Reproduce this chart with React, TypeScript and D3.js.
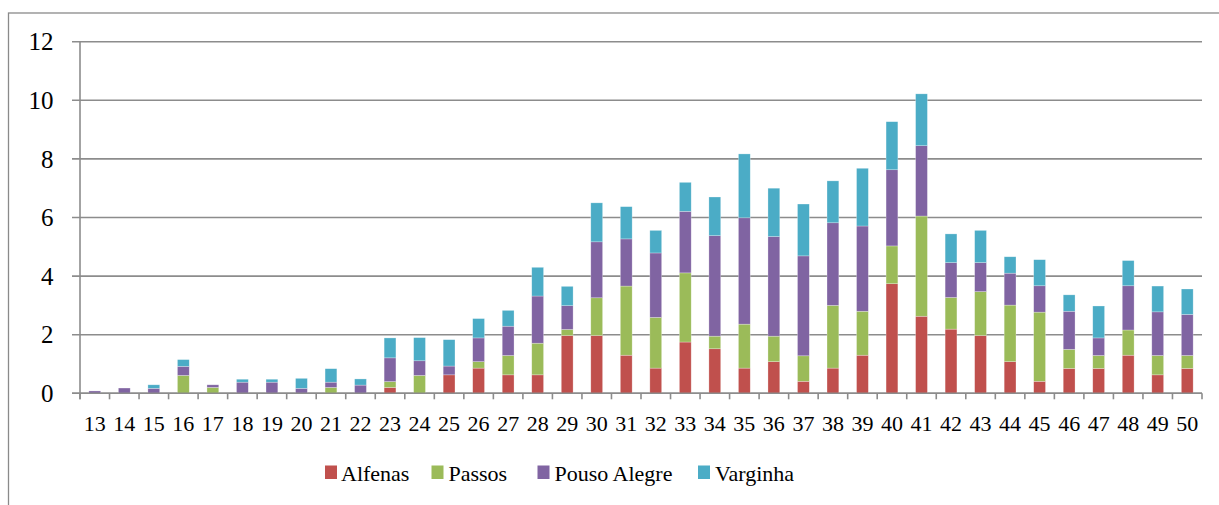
import React from "react";
import * as d3 from "d3";

const weeks = ["13","14","15","16","17","18","19","20","21","22","23","24","25","26","27","28","29","30","31","32","33","34","35","36","37","38","39","40","41","42","43","44","45","46","47","48","49","50"];

const alfenas = [0,0,0,0,0,0,0,0,0,0,0.2,0,0.63,0.86,0.63,0.63,1.97,1.97,1.3,0.86,1.75,1.52,0.86,1.08,0.41,0.86,1.3,3.74,2.63,2.19,1.97,1.08,0.41,0.85,0.85,1.3,0.63,0.85];
const passos = [0,0,0,0.61,0.2,0,0,0,0.2,0,0.2,0.61,0,0.22,0.66,1.08,0.21,1.29,2.36,1.73,2.36,0.43,1.5,0.87,0.87,2.14,1.5,1.29,3.42,1.08,1.5,1.93,2.36,0.65,0.44,0.86,0.66,0.44];
const pousoAlegre = [0.08,0.18,0.17,0.31,0.09,0.38,0.38,0.17,0.18,0.28,0.81,0.5,0.3,0.81,1.0,1.61,0.81,1.91,1.61,2.2,2.1,3.43,3.63,3.4,3.41,2.82,2.91,2.6,2.4,1.19,0.99,1.09,0.9,1.3,0.6,1.51,1.49,1.4];
const varginha = [0,0,0.12,0.23,0,0.1,0.1,0.34,0.46,0.21,0.68,0.79,0.9,0.66,0.54,0.98,0.66,1.33,1.1,0.77,0.99,1.32,2.18,1.65,1.77,1.43,1.97,1.64,1.77,0.98,1.1,0.56,0.89,0.56,1.09,0.86,0.88,0.87];

const seriesNames = ["Alfenas", "Passos", "Pouso Alegre", "Varginha"];
const seriesValues = [alfenas, passos, pousoAlegre, varginha];
const seriesColors = ["#C0504D", "#9BBB59", "#8064A2", "#4BACC6"];
const yTicks = [0, 2, 4, 6, 8, 10, 12];

const W = 1219, H = 505;
const left = 80, right = 1202, top = 41.7, bottom = 393.3;
const FONT = "'Liberation Serif', 'Times New Roman', serif";

export default function App() {
  const x = d3.scaleBand<string>().domain(weeks).range([left, right]).paddingInner(0.6).paddingOuter(0.3);
  const xEdge = d3.scaleLinear().domain([0, weeks.length]).range([left, right]);
  const y = d3.scaleLinear().domain([0, 12]).range([bottom, top]);

  const rows = weeks.map((w, i) => {
    const r: any = { week: w };
    seriesNames.forEach((s, k) => (r[s] = seriesValues[k][i]));
    return r;
  });
  const stacked = d3.stack().keys(seriesNames)(rows);

  const legendItems = [
    { x: 325, tx: 341 },
    { x: 431.5, tx: 448.5 },
    { x: 537.5, tx: 554.5 },
    { x: 698, tx: 715 },
  ];

  return (
    <svg width={W} height={H} style={{ position: "fixed", left: 0, top: 0, background: "#fff" }} fontFamily={FONT}>
      <rect x={0} y={0} width={W} height={H} fill="#fff" />
      {/* outer border */}
      <rect x={8.5} y={13} width={W + 20} height={H + 20} fill="none" stroke="#8a8a8a" strokeWidth={1.3} />
      {/* gridlines */}
      {yTicks.map((t) => (
        <line key={"g" + t} x1={72} x2={right} y1={y(t)} y2={y(t)} stroke="#8c8c8c" strokeWidth={1.6} />
      ))}
      {/* y labels */}
      {yTicks.map((t) => (
        <text key={"yl" + t} x={53.5} y={y(t)} dy="0.35em" textAnchor="end" fontSize={25} fill="#000">
          {t}
        </text>
      ))}
      {/* bars */}
      {stacked.map((layer, k) => (
        <g key={"s" + k} fill={seriesColors[k]}>
          {layer.map((d, i) =>
            d[1] - d[0] > 0 ? (
              <rect
                key={i}
                x={x(weeks[i])!}
                width={x.bandwidth()}
                y={y(d[1])}
                height={y(d[0]) - y(d[1])}
                stroke="rgba(255,255,255,0.45)"
                strokeWidth={0.6}
              />
            ) : null
          )}
        </g>
      ))}
      {/* axes */}
      <line x1={left} x2={left} y1={top} y2={bottom + 6} stroke="#8c8c8c" strokeWidth={1.6} />
      <line x1={72} x2={right} y1={bottom} y2={bottom} stroke="#8c8c8c" strokeWidth={1.6} />
      {d3.range(weeks.length + 1).map((i) => (
        <line key={"t" + i} x1={xEdge(i)} x2={xEdge(i)} y1={bottom} y2={bottom + 6} stroke="#8c8c8c" strokeWidth={1.6} />
      ))}
      {weeks.map((w) => (
        <text key={"xl" + w} x={x(w)! + x.bandwidth() / 2} y={423} dy="0.35em" textAnchor="middle" fontSize={22} fill="#000">
          {w}
        </text>
      ))}
      {/* legend */}
      {seriesNames.map((s, k) => (
        <g key={"l" + s}>
          <rect x={legendItems[k].x} y={465.5} width={12} height={13.5} fill={seriesColors[k]} />
          <text x={legendItems[k].tx} y={480.5} fontSize={22} fill="#000">
            {s}
          </text>
        </g>
      ))}
    </svg>
  );
}
